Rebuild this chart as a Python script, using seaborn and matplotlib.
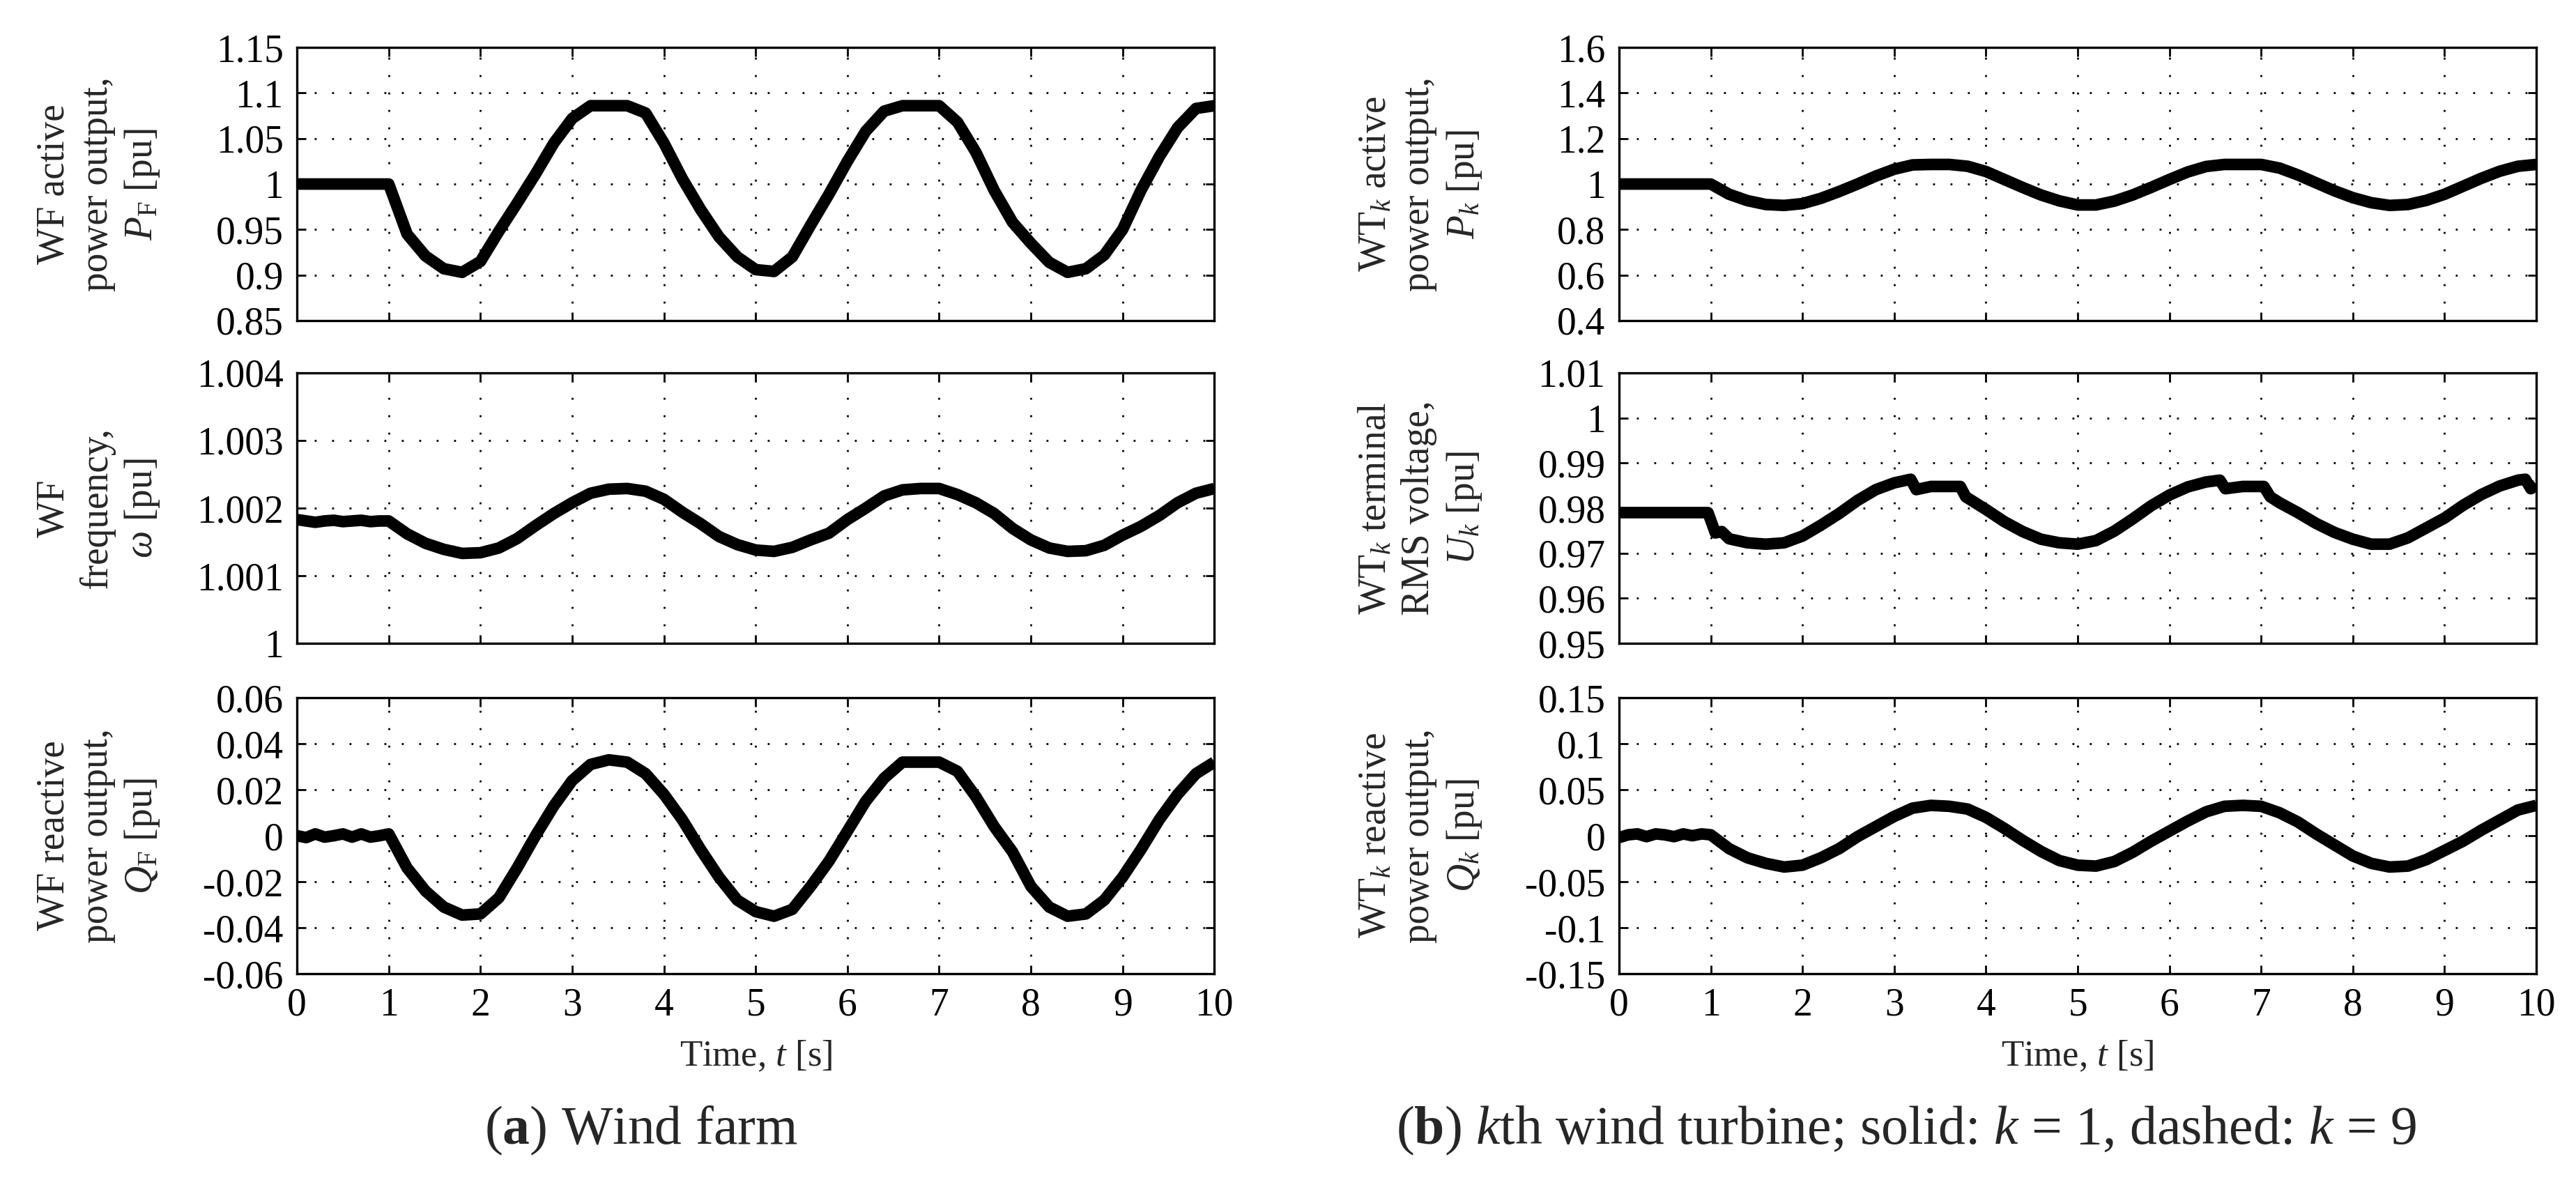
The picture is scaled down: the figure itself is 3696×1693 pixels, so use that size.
import numpy as np
import pandas as pd
import matplotlib
matplotlib.use("Agg")
import matplotlib.pyplot as plt
from matplotlib.ticker import FuncFormatter
import seaborn as sns

# ---------------------------------------------------------------
# data
# ---------------------------------------------------------------
time_s = [0.0, 0.1, 0.2, 0.3, 0.4, 0.5, 0.6, 0.7, 0.8, 0.9, 1.0,
          1.2, 1.4, 1.6, 1.8, 2.0, 2.2, 2.4, 2.6, 2.8, 3.0,
          3.2, 3.4, 3.6, 3.8, 4.0, 4.2, 4.4, 4.6, 4.8, 5.0,
          5.2, 5.4, 5.6, 5.8, 6.0, 6.2, 6.4, 6.6, 6.8, 7.0,
          7.2, 7.4, 7.6, 7.8, 8.0, 8.2, 8.4, 8.6, 8.8, 9.0,
          9.2, 9.4, 9.6, 9.8, 10.0]

# (a) wind farm
p_farm = [1.0, 1.0, 1.0, 1.0, 1.0, 1.0, 1.0, 1.0, 1.0, 1.0, 1.0,
          0.945, 0.921, 0.907, 0.903, 0.915, 0.948, 0.979, 1.011, 1.045, 1.072,
          1.086, 1.086, 1.086, 1.078, 1.045, 1.006, 0.972, 0.942, 0.920, 0.906,
          0.904, 0.920, 0.955, 0.989, 1.025, 1.058, 1.080, 1.086, 1.086, 1.086,
          1.068, 1.035, 0.993, 0.958, 0.935, 0.914, 0.903, 0.907, 0.922, 0.950,
          0.993, 1.030, 1.062, 1.083, 1.086]

omega_farm = [1.00183, 1.00181, 1.00179, 1.00181, 1.00182, 1.00180, 1.00181, 1.00182, 1.00180, 1.00181, 1.00181,
              1.00162, 1.00148, 1.00139, 1.00133, 1.00134, 1.00141, 1.00155, 1.00174, 1.00192, 1.00208,
              1.00222, 1.00228, 1.00229, 1.00225, 1.00213, 1.00194, 1.00177, 1.00158, 1.00146, 1.00138,
              1.00136, 1.00142, 1.00153, 1.00163, 1.00183, 1.00200, 1.00218, 1.00227, 1.00229, 1.00229,
              1.00220, 1.00208, 1.00192, 1.00170, 1.00153, 1.00141, 1.00136, 1.00137, 1.00145, 1.00160,
              1.00173, 1.00189, 1.00208, 1.00222, 1.00229]

q_farm = [0.0, -0.0008, 0.0008, -0.0006, 0.0, 0.0008, -0.0006, 0.0008, -0.0006, 0.0, 0.0008,
          -0.014, -0.024, -0.031, -0.0345, -0.034, -0.027, -0.014, 0.000, 0.013, 0.024,
          0.031, 0.033, 0.032, 0.027, 0.018, 0.007, -0.006, -0.018, -0.028, -0.033,
          -0.035, -0.032, -0.022, -0.011, 0.002, 0.015, 0.025, 0.032, 0.032, 0.032,
          0.028, 0.017, 0.004, -0.007, -0.022, -0.031, -0.035, -0.034, -0.028, -0.018,
          -0.006, 0.007, 0.018, 0.027, 0.032]

# (b) k-th wind turbine
p_turb = [1.0, 1.0, 1.0, 1.0, 1.0, 1.0, 1.0, 1.0, 1.0, 1.0, 1.0,
          0.955, 0.927, 0.910, 0.906, 0.914, 0.937, 0.967, 1.000, 1.035, 1.065,
          1.084, 1.086, 1.086, 1.078, 1.055, 1.020, 0.985, 0.952, 0.926, 0.908,
          0.908, 0.925, 0.952, 0.985, 1.020, 1.053, 1.077, 1.086, 1.086, 1.086,
          1.070, 1.040, 1.005, 0.970, 0.940, 0.918, 0.906, 0.910, 0.928, 0.955,
          0.990, 1.025, 1.056, 1.078, 1.086]

q_turb = [-0.002, 0.001, 0.002, -0.001, 0.002, 0.001, -0.001, 0.002, 0.0, 0.002, 0.001,
          -0.014, -0.024, -0.030, -0.034, -0.032, -0.024, -0.014, -0.001, 0.010, 0.021,
          0.030, 0.033, 0.032, 0.029, 0.020, 0.008, -0.005, -0.017, -0.027, -0.032,
          -0.033, -0.028, -0.018, -0.006, 0.005, 0.016, 0.026, 0.032, 0.033, 0.032,
          0.025, 0.015, 0.002, -0.010, -0.022, -0.030, -0.034, -0.033, -0.026, -0.016,
          -0.006, 0.006, 0.017, 0.028, 0.033]

# terminal voltage has small steps, so it gets its own time points
time_u = [0.0, 0.2, 0.4, 0.6, 0.8, 0.97, 1.05, 1.12, 1.2, 1.4,
          1.6, 1.8, 2.0, 2.2, 2.4, 2.6, 2.8, 3.0, 3.18, 3.24,
          3.4, 3.6, 3.72, 3.78, 4.0, 4.2, 4.4, 4.6, 4.8, 5.0,
          5.2, 5.4, 5.6, 5.8, 6.0, 6.2, 6.4, 6.55, 6.61, 6.8,
          7.03, 7.1, 7.2, 7.4, 7.6, 7.8, 8.0, 8.2, 8.4, 8.6,
          8.8, 9.0, 9.2, 9.4, 9.6, 9.8, 9.88, 9.94, 10.0]
u_turb = [0.979, 0.979, 0.979, 0.979, 0.979, 0.979, 0.9745, 0.9748, 0.9732, 0.9723,
          0.9720, 0.9723, 0.9738, 0.9762, 0.9788, 0.9817, 0.9841, 0.9856, 0.9864, 0.9841,
          0.9848, 0.9848, 0.9848, 0.9825, 0.9797, 0.9770, 0.9748, 0.9731, 0.9723, 0.9720,
          0.9728, 0.9749, 0.9776, 0.9805, 0.9829, 0.9847, 0.9858, 0.9862, 0.9843, 0.9848,
          0.9848, 0.9825, 0.9812, 0.9790, 0.9766, 0.9746, 0.9731, 0.9720, 0.9720, 0.9734,
          0.9756, 0.9778, 0.9806, 0.9830, 0.9849, 0.9862, 0.9864, 0.9843, 0.9852]

x_ticks = [0, 1, 2, 3, 4, 5, 6, 7, 8, 9, 10]
yticks_p_farm = [0.85, 0.9, 0.95, 1.0, 1.05, 1.1, 1.15]
yticks_omega = [1.0, 1.001, 1.002, 1.003, 1.004]
yticks_q_farm = [-0.06, -0.04, -0.02, 0.0, 0.02, 0.04, 0.06]
yticks_p_turb = [0.4, 0.6, 0.8, 1.0, 1.2, 1.4, 1.6]
yticks_u = [0.95, 0.96, 0.97, 0.98, 0.99, 1.0, 1.01]
yticks_q_turb = [-0.15, -0.1, -0.05, 0.0, 0.05, 0.1, 0.15]

# ---------------------------------------------------------------
# style
# ---------------------------------------------------------------
sns.set_style("ticks")
plt.rcParams["font.family"] = ["Liberation Serif", "DejaVu Serif"]
plt.rcParams["mathtext.fontset"] = "custom"
plt.rcParams["mathtext.rm"] = "Liberation Serif"
plt.rcParams["mathtext.it"] = "Liberation Serif:italic"
plt.rcParams["mathtext.bf"] = "Liberation Serif:bold"
plt.rcParams["mathtext.fallback"] = "stix"

fig = plt.figure(figsize=(18.48, 8.465), dpi=200)

col_x = [0.1153, 0.6285]
col_w = 0.3561
row_y = [0.7283, 0.4548, 0.1748]
row_h = [0.2315, 0.2292, 0.2339]

panels = [
    (0, 0, time_s, p_farm, yticks_p_farm, "WF active\npower output,\n$P_\\mathrm{F}$ [pu]"),
    (0, 1, time_s, omega_farm, yticks_omega, "WF\nfrequency,\n$\\omega$ [pu]"),
    (0, 2, time_s, q_farm, yticks_q_farm, "WF reactive\npower output,\n$Q_\\mathrm{F}$ [pu]"),
    (1, 0, time_s, p_turb, yticks_p_turb, "WT$_k$ active\npower output,\n$P_k$ [pu]"),
    (1, 1, time_u, u_turb, yticks_u, "WT$_k$ terminal\nRMS voltage,\n$U_k$ [pu]"),
    (1, 2, time_s, q_turb, yticks_q_turb, "WT$_k$ reactive\npower output,\n$Q_k$ [pu]"),
]

fmt = FuncFormatter(lambda v, pos: "%g" % round(v, 6))

for col, row, tt, vals, yt, label in panels:
    ax = fig.add_axes([col_x[col], row_y[row], col_w, row_h[row]])
    df = pd.DataFrame({"t": tt, "v": vals})
    sns.lineplot(data=df, x="t", y="v", ax=ax, color="black", linewidth=6,
                 solid_capstyle="butt", solid_joinstyle="round")
    ax.set_xlim(0, 10)
    ax.set_ylim(yt[0], yt[-1])
    ax.set_xticks(x_ticks)
    ax.set_yticks(yt)
    ax.yaxis.set_major_formatter(fmt)
    ax.grid(True, color="black", linestyle=(0, (1, 8)), linewidth=1.0)
    ax.tick_params(direction="in", top=True, right=True, length=4.5, width=1.0,
                   labelsize=20, pad=7, colors="black")
    for sp in ax.spines.values():
        sp.set_linewidth(1.2)
        sp.set_color("black")
    ax.set_xlabel("")
    ax.set_ylabel("")
    if row < 2:
        ax.tick_params(labelbottom=False)
    else:
        ax.set_xlabel("Time, $t$ [s]", fontsize=19, labelpad=8)
    ax.text(-0.216, 0.5, label, transform=ax.transAxes, rotation=90,
            ha="center", va="center", multialignment="center",
            fontsize=20, linespacing=1.25)

fig.text(0.249, 0.042, "($\\mathbf{a}$) Wind farm", ha="center", va="center", fontsize=28)
fig.text(0.740, 0.042, "($\\mathbf{b}$) $k$th wind turbine; solid: $k$ = 1, dashed: $k$ = 9",
         ha="center", va="center", fontsize=28)

fig.savefig("out.png", dpi=200)
